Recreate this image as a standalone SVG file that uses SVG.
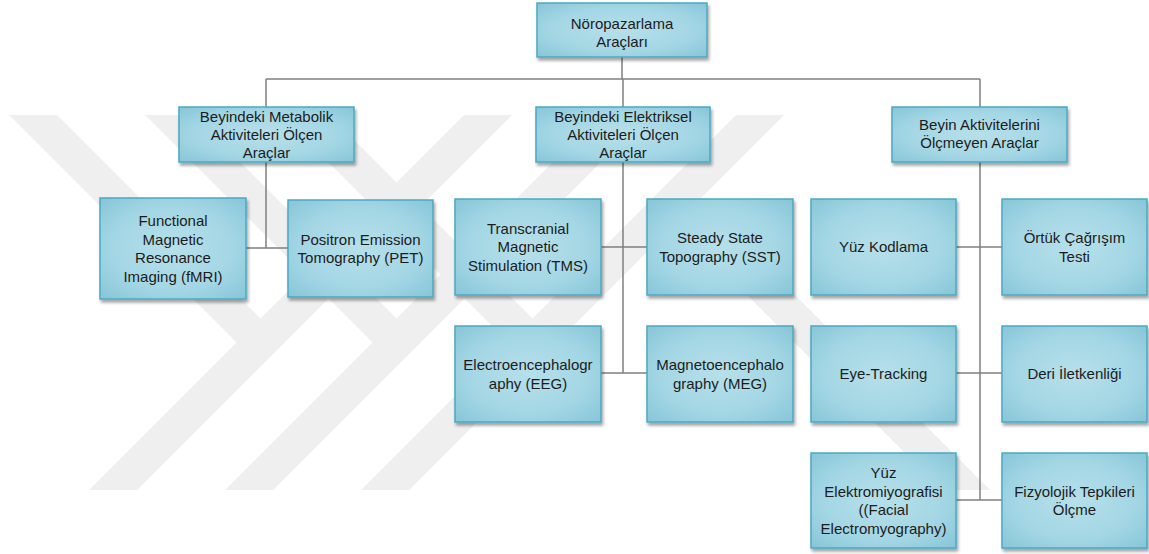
<svg xmlns="http://www.w3.org/2000/svg" width="1149" height="554" viewBox="0 0 1149 554">
<defs>
<radialGradient id="boxFill" cx="50%" cy="50%" r="70%">
<stop offset="0" stop-color="#b6e0ea"/>
<stop offset="0.6" stop-color="#a3d6e4"/>
<stop offset="1" stop-color="#86c6d8"/>
</radialGradient>
<filter id="shadow" x="-10%" y="-10%" width="125%" height="135%">
<feDropShadow dx="1.5" dy="3" stdDeviation="1.8" flood-color="#000000" flood-opacity="0.35"/>
</filter>
</defs>
<style>
.wm { fill: #efefef; }
.box { fill: url(#boxFill); stroke: #4aa9c3; stroke-width: 1.5; filter: url(#shadow); }
.lbl { font-family: "Liberation Sans", Arial, sans-serif; font-size: 15px; fill: #1c1c1c; text-anchor: middle; }
.conn { stroke: #808080; stroke-width: 1.5; fill: none; }
</style>
<rect width="1149" height="554" fill="#ffffff"/>
<g id="watermark">
<polygon class="wm" points="9,115 57,115 284.5,342.5 260.5,366.5"/>
<polygon class="wm" points="464,115 512,115 137,490 89,490"/>
<polygon class="wm" points="145,115 193,115 420.5,342.5 396.5,366.5"/>
<polygon class="wm" points="600,115 648,115 273,490 225,490"/>
<polygon class="wm" points="281,115 329,115 556.5,342.5 532.5,366.5"/>
<polygon class="wm" points="736,115 784,115 409,490 361,490"/>
<polygon class="wm" points="651.5,199.5 675.5,175.5 990,490 942,490"/>
</g>
<g id="connectors">
<path class="conn" d="M622 57 V79 M266 79 H980 M266 79 V107 M623 79 V107 M980 79 V107"/>
<path class="conn" d="M266 162 V248 M246 248 H288"/>
<path class="conn" d="M623 162 V373 M601 247 H647 M601 373 H647"/>
<path class="conn" d="M980 162 V500 M956 247 H1002 M956 373 H1002 M956 500 H1002"/>
</g>
<g id="root">
<rect class="box" x="537" y="3" width="170" height="54"/>
<text class="lbl" x="622" y="29">Nöropazarlama</text>
<text class="lbl" x="622" y="47">Araçları</text>
</g>
<g id="metabolik">
<rect class="box" x="179" y="107" width="175" height="55"/>
<text class="lbl" x="266.5" y="122">Beyindeki Metabolik</text>
<text class="lbl" x="266.5" y="140">Aktiviteleri Ölçen</text>
<text class="lbl" x="266.5" y="158">Araçlar</text>
</g>
<g id="elektriksel">
<rect class="box" x="536" y="107" width="174" height="55"/>
<text class="lbl" x="623" y="122">Beyindeki Elektriksel</text>
<text class="lbl" x="623" y="140">Aktiviteleri Ölçen</text>
<text class="lbl" x="623" y="158">Araçlar</text>
</g>
<g id="olcmeyen">
<rect class="box" x="892" y="107" width="175" height="55"/>
<text class="lbl" x="979.5" y="130">Beyin Aktivitelerini</text>
<text class="lbl" x="979.5" y="148">Ölçmeyen Araçlar</text>
</g>
<g id="fmri">
<rect class="box" x="100" y="198" width="146" height="101"/>
<text class="lbl" x="173" y="226">Functional</text>
<text class="lbl" x="173" y="244.5">Magnetic</text>
<text class="lbl" x="173" y="263">Resonance</text>
<text class="lbl" x="173" y="281.5">Imaging (fMRI)</text>
</g>
<g id="pet">
<rect class="box" x="288" y="200" width="145" height="97"/>
<text class="lbl" x="360.5" y="244.5">Positron Emission</text>
<text class="lbl" x="360.5" y="263">Tomography (PET)</text>
</g>
<g id="tms">
<rect class="box" x="455" y="199" width="146" height="96"/>
<text class="lbl" x="528" y="233.5">Transcranial</text>
<text class="lbl" x="528" y="252">Magnetic</text>
<text class="lbl" x="528" y="270.5">Stimulation (TMS)</text>
</g>
<g id="sst">
<rect class="box" x="647" y="199" width="146" height="96"/>
<text class="lbl" x="720" y="243">Steady State</text>
<text class="lbl" x="720" y="261.5">Topography (SST)</text>
</g>
<g id="eeg">
<rect class="box" x="455" y="326" width="146" height="96"/>
<text class="lbl" x="528" y="370">Electroencephalogr</text>
<text class="lbl" x="528" y="388.5">aphy (EEG)</text>
</g>
<g id="meg">
<rect class="box" x="647" y="326" width="146" height="96"/>
<text class="lbl" x="720" y="370">Magnetoencephalo</text>
<text class="lbl" x="720" y="388.5">graphy (MEG)</text>
</g>
<g id="yuz-kodlama">
<rect class="box" x="811" y="199" width="145" height="96"/>
<text class="lbl" x="883.5" y="252">Yüz Kodlama</text>
</g>
<g id="ortuk">
<rect class="box" x="1002" y="199" width="145" height="96"/>
<text class="lbl" x="1074.5" y="243">Örtük Çağrışım</text>
<text class="lbl" x="1074.5" y="261.5">Testi</text>
</g>
<g id="eye-tracking">
<rect class="box" x="811" y="326" width="145" height="96"/>
<text class="lbl" x="883.5" y="379">Eye-Tracking</text>
</g>
<g id="deri">
<rect class="box" x="1002" y="326" width="145" height="96"/>
<text class="lbl" x="1074.5" y="379">Deri İletkenliği</text>
</g>
<g id="yuz-emg">
<rect class="box" x="811" y="453" width="145" height="95"/>
<text class="lbl" x="883.5" y="478">Yüz</text>
<text class="lbl" x="883.5" y="496.5">Elektromiyografisi</text>
<text class="lbl" x="883.5" y="515">((Facial</text>
<text class="lbl" x="883.5" y="533.5">Electromyography)</text>
</g>
<g id="fizyolojik">
<rect class="box" x="1002" y="453" width="145" height="95"/>
<text class="lbl" x="1074.5" y="496.5">Fizyolojik Tepkileri</text>
<text class="lbl" x="1074.5" y="515">Ölçme</text>
</g>
</svg>
